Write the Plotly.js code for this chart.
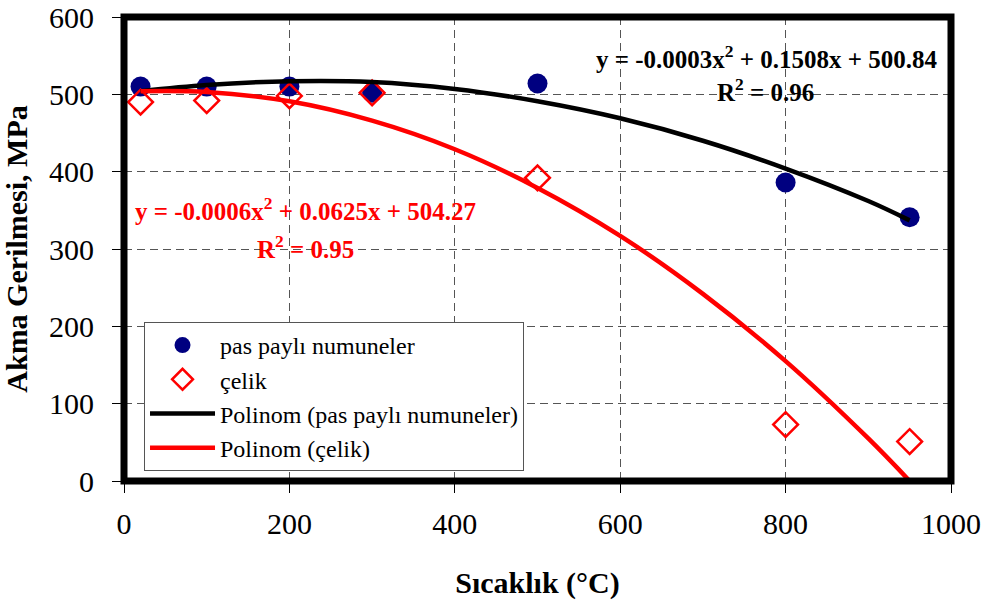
<!DOCTYPE html>
<html>
<head>
<meta charset="utf-8">
<script src="https://cdn.plot.ly/plotly-3.0.1.min.js"></script>
<style>
html,body{margin:0;padding:0;background:#fff;}
#chart{width:987px;height:605px;}
</style>
</head>
<body>
<div id="chart"></div>
<script>
// Measured data (temperature °C vs yield stress MPa)
var temps = [20, 100, 200, 300, 500, 800, 950];
var pasPayli = [510, 510, 510, 502, 514, 386, 341];
var celik = [490, 492, 498, 502, 392, 73, 51];

// Trendline curves
var fitX = [20, 100, 200, 300, 400, 500, 600, 700, 800, 900, 950];
var fitPasPayli = [504, 512, 517, 516, 507, 491, 469, 440, 404, 362, 337];
var fitCelik = [504, 503, 491, 466, 429, 379, 317, 242, 155, 55, 0];

var names = ["pas paylı numuneler", "çelik", "Polinom (pas paylı numuneler)", "Polinom (çelik)"];
var eqBlack = "y = -0.0003x<sup>2</sup> + 0.1508x + 500.84";
var r2Black = "R<sup>2</sup> = 0.96";
var eqRed = "y = -0.0006x<sup>2</sup> + 0.0625x + 504.27";
var r2Red = "R<sup>2</sup> = 0.95";

var serif = "Liberation Serif";

var traces = [
  {x: temps, y: pasPayli, name: names[0], type: "scatter", mode: "markers",
   marker: {symbol: "circle", size: 20, color: "#000080"}},
  {x: temps, y: celik, name: names[1], type: "scatter", mode: "markers",
   marker: {symbol: "diamond-open", size: 19, color: "#ff0000", line: {width: 2.5, color: "#ff0000"}}},
  {x: fitX, y: fitPasPayli, name: names[2], type: "scatter", mode: "lines",
   line: {color: "#000000", width: 4.5, shape: "spline"}},
  {x: fitX, y: fitCelik, name: names[3], type: "scatter", mode: "lines",
   line: {color: "#ff0000", width: 4.5, shape: "spline"}}
];

var layout = {
  width: 987, height: 605,
  margin: {l: 124, r: 36, t: 17, b: 124},
  paper_bgcolor: "#ffffff", plot_bgcolor: "#ffffff",
  font: {family: serif, color: "#000"},
  showlegend: true,
  legend: {
    x: 0.0242, y: 0.3427, xanchor: "left", yanchor: "top",
    bgcolor: "#ffffff", bordercolor: "#555555", borderwidth: 1,
    font: {family: serif, size: 24, color: "#000"},
    itemwidth: 65
  },
  xaxis: {
    range: [0, 1000], dtick: 200, tick0: 0,
    showgrid: true, gridcolor: "#555555", gridwidth: 1, griddash: "8px,5px",
    zeroline: false, showline: false,
    ticks: "outside", ticklen: 11, tickwidth: 1, tickcolor: "#000",
    ticklabelstandoff: 5,
    tickfont: {family: serif, size: 30, color: "#000"},
    title: {text: "Sıcaklık (°C)", standoff: 32, font: {family: serif, size: 30, color: "#000", weight: "bold"}}
  },
  yaxis: {
    range: [0, 600], dtick: 100, tick0: 0,
    showgrid: true, gridcolor: "#555555", gridwidth: 1, griddash: "8px,5px",
    zeroline: false, showline: false,
    ticks: "outside", ticklen: 11, tickwidth: 1, tickcolor: "#000",
    ticklabelstandoff: 12,
    tickfont: {family: serif, size: 30, color: "#000"},
    title: {text: "Akma Gerilmesi, MPa", standoff: 13, font: {family: serif, size: 30, color: "#000", weight: "bold"}}
  },
  shapes: [
    {type: "rect", xref: "paper", yref: "paper", x0: 0, x1: 1, y0: 0, y1: 1,
     line: {color: "#000", width: 7}, layer: "above"}
  ],
  annotations: [
    {x: 777, y: 548, xref: "x", yref: "y", text: "<b>" + eqBlack + "</b>", showarrow: false,
     font: {family: serif, size: 25, color: "#000"}},
    {x: 776, y: 505, xref: "x", yref: "y", text: "<b>" + r2Black + "</b>", showarrow: false,
     font: {family: serif, size: 25, color: "#000"}},
    {x: 219, y: 352, xref: "x", yref: "y", text: "<b>" + eqRed + "</b>", showarrow: false,
     font: {family: serif, size: 25, color: "#ff0000"}},
    {x: 219, y: 303, xref: "x", yref: "y", text: "<b>" + r2Red + "</b>", showarrow: false,
     font: {family: serif, size: 25, color: "#ff0000"}}
  ]
};

Plotly.newPlot("chart", traces, layout, {displayModeBar: false, staticPlot: true});
</script>
</body>
</html>
